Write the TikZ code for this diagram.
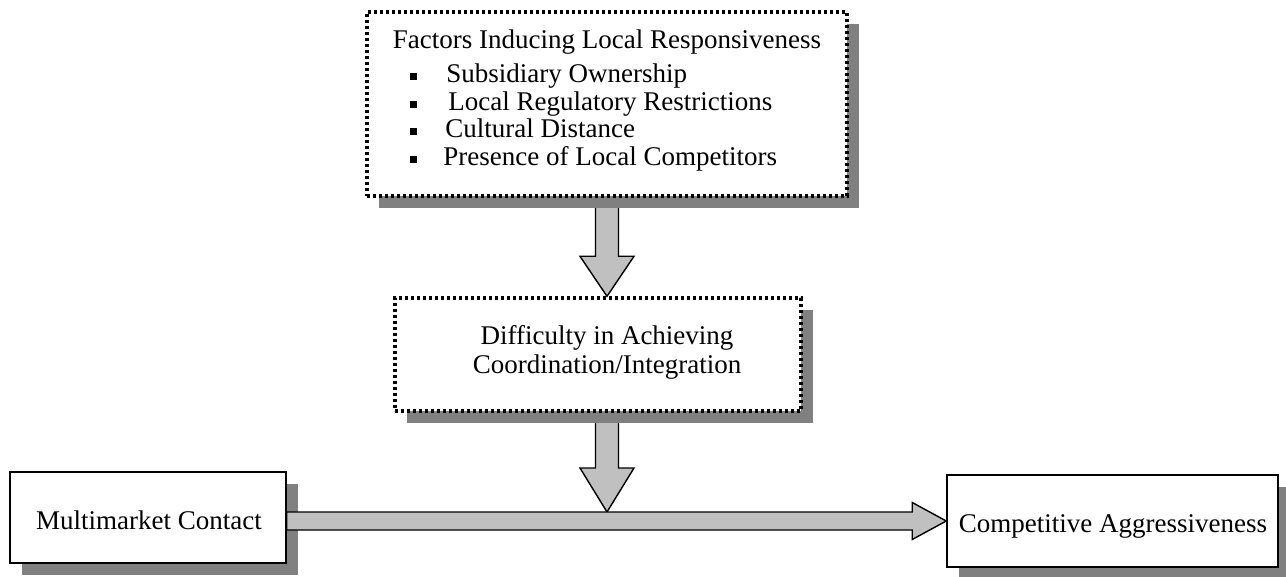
\documentclass[tikz,border=0pt]{standalone}
\usepackage{fontspec}
\setmainfont{Liberation Serif}
\usetikzlibrary{calc,shadows,backgrounds}
\definecolor{shadowgray}{HTML}{808080}
\definecolor{arrowgray}{HTML}{C0C0C0}
\begin{document}
\begin{tikzpicture}[x=0.5pt,y=-0.5pt,
  every node/.style={font=\fontsize{13.5}{16}\selectfont},
  boxshadow/.style={general shadow={fill=shadowgray, shadow xshift=6pt, shadow yshift=-6pt}},
  solidbox/.style={draw=black, line width=0.75pt, fill=white, inner sep=0pt, boxshadow},
  dotbox/.style={draw=black, line width=1.7pt, dash pattern=on 1.6pt off 1.4pt, fill=white, inner sep=0pt, boxshadow},
  blockarrow/.style={draw=black, line width=0.7pt, fill=arrowgray, line join=miter},
  lbl/.style={anchor=base, inner sep=0pt},
  lblw/.style={anchor=base west, inner sep=0pt},
  bul/.style={fill=black, inner sep=0pt, minimum size=3.5pt},
]
\useasboundingbox (0,0) rectangle (1286,577);

% boxes
\node[dotbox, minimum width=240pt, minimum height=92pt] (top) at (607,104) {};
\node[dotbox, minimum width=203pt, minimum height=56.5pt] (mid) at (598,354.5) {};
\node[solidbox, minimum width=138pt, minimum height=45.5pt] (mm) at (148,517.5) {};
\node[solidbox, minimum width=165.5pt, minimum height=46pt] (ca) at (1112.5,521) {};

% texts of the top box
\node[lbl] (t0) at (607,49) {Factors Inducing Local Responsiveness};
\node[bul] (b1) at (413,77) {};
\node[lblw] (t1) at (446,83) {Subsidiary Ownership};
\node[bul] (b2) at (413,105) {};
\node[lblw] (t2) at (448,111) {Local Regulatory Restrictions};
\node[bul] (b3) at (413,132) {};
\node[lblw] (t3) at (445,138) {Cultural Distance};
\node[bul] (b4) at (413,160) {};
\node[lblw] (t4) at (443,166) {Presence of Local Competitors};

% texts of the middle box
\node[lbl] (m1) at (607,345) {Difficulty in Achieving};
\node[lbl] (m2) at (607,373) {Coordination/Integration};

% texts of the lower boxes
\node[lbl] (mmt) at (149,529) {Multimarket Contact};
\node[lbl] (cat) at (1113,532) {Competitive Aggressiveness};

% connectors
\coordinate (hstart) at (mm.east |- ca.west);
\coordinate (a1tip) at (top.south |- mid.north);
\coordinate (a2start) at (top.south |- mid.south);
\coordinate (a2tip) at ($(top.south |- hstart)+(0,-9)$);

\begin{pgfonlayer}{background}
\draw[blockarrow] ($(top.south)+(-11.5,0)$) -- ($(a1tip)+(-11.5,-40)$)
  -- ($(a1tip)+(-27,-40)$) -- (a1tip) -- ($(a1tip)+(27,-40)$)
  -- ($(a1tip)+(11.5,-40)$) -- ($(top.south)+(11.5,0)$) -- cycle;
\draw[blockarrow] ($(a2start)+(-11.5,0)$) -- ($(a2tip)+(-11.5,-44)$)
  -- ($(a2tip)+(-27,-44)$) -- (a2tip) -- ($(a2tip)+(27,-44)$)
  -- ($(a2tip)+(11.5,-44)$) -- ($(a2start)+(11.5,0)$) -- cycle;
\end{pgfonlayer}

\draw[blockarrow] ($(hstart)+(0,-9)$) -- ($(ca.west)+(-34,-9)$)
  -- ($(ca.west)+(-34,-18.5)$) -- (ca.west) -- ($(ca.west)+(-34,18.5)$)
  -- ($(ca.west)+(-34,9)$) -- ($(hstart)+(0,9)$) -- cycle;
\end{tikzpicture}
\end{document}
